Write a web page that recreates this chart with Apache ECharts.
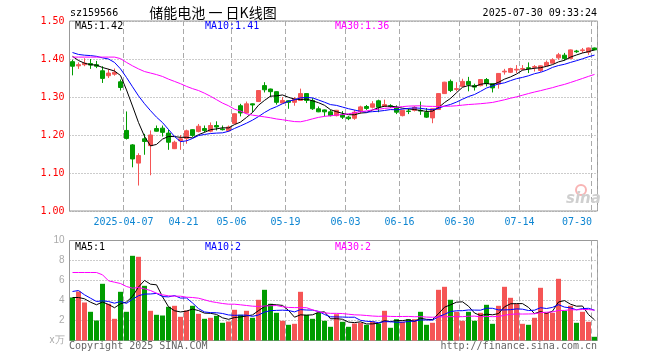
<!DOCTYPE html>
<html><head><meta charset="utf-8">
<script src="https://cdn.jsdelivr.net/npm/echarts@6/dist/echarts.min.js"></script>
<style>html,body{margin:0;padding:0;background:#fff}#c{width:660px;height:360px}</style>
</head><body><div id="c"></div>
<script>
// ---- data ----
const dates = ['2025-03-24','2025-03-25','2025-03-26','2025-03-27','2025-03-28','2025-03-31','2025-04-01','2025-04-02','2025-04-03',
'2025-04-07','2025-04-08','2025-04-09','2025-04-10','2025-04-11','2025-04-14','2025-04-15','2025-04-16','2025-04-17','2025-04-18',
'2025-04-21','2025-04-22','2025-04-23','2025-04-24','2025-04-25','2025-04-28','2025-04-29','2025-04-30',
'2025-05-06','2025-05-07','2025-05-08','2025-05-09','2025-05-12','2025-05-13','2025-05-14','2025-05-15','2025-05-16',
'2025-05-19','2025-05-20','2025-05-21','2025-05-22','2025-05-23','2025-05-26','2025-05-27','2025-05-28','2025-05-29','2025-05-30',
'2025-06-03','2025-06-04','2025-06-05','2025-06-06','2025-06-09','2025-06-10','2025-06-11','2025-06-12','2025-06-13',
'2025-06-16','2025-06-17','2025-06-18','2025-06-19','2025-06-20','2025-06-23','2025-06-24','2025-06-25','2025-06-26','2025-06-27',
'2025-06-30','2025-07-01','2025-07-02','2025-07-03','2025-07-04','2025-07-07','2025-07-08','2025-07-09','2025-07-10','2025-07-11',
'2025-07-14','2025-07-15','2025-07-16','2025-07-17','2025-07-18','2025-07-21','2025-07-22','2025-07-23','2025-07-24','2025-07-25',
'2025-07-28','2025-07-29','2025-07-30'];
const opens = [1.393,1.382,1.385,1.388,1.385,1.369,1.356,1.360,1.340,
1.212,1.174,1.126,1.190,1.172,1.217,1.218,1.205,1.164,1.185,
1.191,1.214,1.209,1.217,1.210,1.225,1.216,1.211,
1.230,1.277,1.258,1.282,1.288,1.330,1.321,1.314,1.284,
1.290,1.286,1.291,1.309,1.291,1.269,1.266,1.261,1.251,1.253,
1.247,1.244,1.262,1.275,1.273,1.290,1.275,1.277,1.273,
1.251,1.263,1.265,1.265,1.260,1.245,1.267,1.309,1.341,1.320,
1.328,1.341,1.330,1.330,1.346,1.335,1.334,1.366,1.365,1.371,
1.373,1.377,1.378,1.370,1.382,1.389,1.403,1.410,1.401,1.421,
1.422,1.418,1.429];
const closes = [1.381,1.385,1.389,1.384,1.381,1.349,1.363,1.365,1.325,
1.191,1.137,1.146,1.183,1.200,1.210,1.207,1.181,1.181,1.190,
1.211,1.199,1.223,1.212,1.225,1.221,1.214,1.221,
1.256,1.258,1.282,1.279,1.317,1.319,1.314,1.286,1.291,
1.286,1.295,1.309,1.291,1.269,1.261,1.261,1.251,1.265,1.247,
1.243,1.260,1.274,1.270,1.282,1.273,1.280,1.275,1.260,
1.265,1.262,1.273,1.263,1.247,1.269,1.309,1.339,1.317,1.322,
1.341,1.332,1.326,1.346,1.335,1.324,1.362,1.368,1.375,1.373,
1.375,1.375,1.380,1.382,1.391,1.398,1.411,1.401,1.424,1.419,
1.424,1.429,1.424];
const lows = [1.357,1.374,1.381,1.374,1.376,1.337,1.350,1.356,1.317,
1.188,1.115,1.067,1.148,1.094,1.209,1.196,1.161,1.163,1.161,
1.177,1.195,1.207,1.207,1.207,1.212,1.212,1.209,
1.229,1.249,1.257,1.260,1.287,1.312,1.300,1.280,1.284,
1.269,1.277,1.290,1.284,1.266,1.260,1.249,1.249,1.249,1.242,
1.239,1.240,1.256,1.266,1.270,1.260,1.275,1.271,1.255,
1.249,1.255,1.262,1.253,1.245,1.231,1.266,1.308,1.313,1.315,
1.326,1.315,1.317,1.328,1.328,1.312,1.322,1.359,1.363,1.363,
1.370,1.363,1.367,1.366,1.381,1.388,1.398,1.396,1.400,1.416,
1.416,1.411,1.423];
const highs = [1.398,1.391,1.402,1.400,1.395,1.381,1.374,1.375,1.346,
1.262,1.176,1.152,1.203,1.212,1.225,1.225,1.214,1.185,1.200,
1.214,1.215,1.229,1.225,1.233,1.236,1.225,1.225,
1.257,1.282,1.288,1.283,1.318,1.339,1.322,1.315,1.300,
1.291,1.300,1.322,1.310,1.297,1.275,1.267,1.266,1.266,1.263,
1.250,1.266,1.277,1.279,1.289,1.293,1.293,1.281,1.278,
1.266,1.269,1.276,1.288,1.271,1.270,1.310,1.340,1.346,1.339,
1.348,1.353,1.335,1.347,1.350,1.336,1.363,1.374,1.377,1.384,
1.384,1.391,1.384,1.383,1.396,1.402,1.416,1.416,1.425,1.424,
1.429,1.430,1.430];
const volumes = [4.3,4.9,3.8,2.87,2.0,5.67,3.67,2.17,4.87,
2.87,8.47,8.37,5.47,2.97,2.57,2.5,3.37,3.47,2.37,
3.0,3.47,2.67,2.17,2.27,2.47,1.77,1.9,
3.07,2.57,2.97,2.27,4.07,5.07,3.67,2.77,1.97,
1.57,1.67,4.87,2.57,2.17,2.77,1.97,1.37,2.63,1.87,
1.37,1.7,1.77,1.57,1.9,1.7,2.97,1.27,2.13,
1.87,2.13,2.13,2.87,1.57,1.77,5.07,5.37,4.07,2.87,
1.97,2.87,1.97,2.77,3.57,1.67,3.47,5.37,4.27,3.67,
1.67,1.57,2.27,5.27,2.77,2.77,6.17,2.97,3.47,1.77,
2.87,1.87,0.37];
// moving-average values at the left edge (windows reach back before the chart)
const ma5Head = [1.407,1.396,1.389,1.385];
const ma10Head = [1.417,1.412,1.410,1.409,1.407,1.403,1.400,1.391,1.374];
const ma30Head = [1.405,1.405,1.405,1.405,1.405,1.405,1.405,1.405,1.401,1.391,1.382,1.374,1.367,1.363,1.359,
1.354,1.347,1.341,1.335,1.328,1.322,1.317,1.310,1.302,1.293,1.284,1.277,1.268,1.263];
const volMa5Head = [4.3,4.3,4.17,3.83];
const volMa10Head = [4.9,5.0,4.57,4.23,3.9,3.97,3.9,3.73,3.9];
const volMa30Head = [6.8,6.8,6.8,6.8,6.8,6.57,5.97,5.83,5.7,5.4,5.23,5.3,5.17,5.0,4.73,4.57,4.47,4.43,4.43,
4.33,4.3,4.23,4.07,3.9,3.8,3.7,3.63,3.63,3.57];
const tickDates = ['2025-04-07','2025-04-21','2025-05-06','2025-05-19','2025-06-03','2025-06-16','2025-06-30','2025-07-14','2025-07-30'];
const tickLabels = ['2025-04-07','04-21','05-06','05-19','06-03','06-16','06-30','07-14','07-30'];
const priceLegend = ['MA5:1.42','MA10:1.41','MA30:1.36'];
const volLegend = ['MA5:1','MA10:2','MA30:2'];
const headerTexts = ['sz159566','储能电池 一 日K线图','2025-07-30 09:33:24'];
const footerTexts = ['Copyright 2025 SINA.COM','http://finance.sina.com.cn'];

// ---- build ----
function movingAvg(src, n, head){
  return src.map((v,i)=>{
    if(i < n-1) return head[i];
    let s=0; for(let k=i-n+1;k<=i;k++) s+=src[k];
    return +(s/n).toFixed(4);
  });
}
const RED='#f55555', GREEN='#009c00', MONO='"DejaVu Sans Mono", monospace';
const kData = dates.map((d,i)=>[opens[i],closes[i],lows[i],highs[i]]);
const volData = volumes.map((v,i)=>({value:v,itemStyle:{color: closes[i]>=opens[i]?RED:GREEN}}));
const tickIdx = tickDates.map(d=>dates.indexOf(d));
const lastTick = tickIdx[tickIdx.length-1];
const splitLineCfg = {show:true, interval:(idx)=>tickIdx.includes(idx), lineStyle:{color:'#aaa',type:[5,3],width:1}};

const chart = echarts.init(document.getElementById('c'), null, {renderer:'canvas'});
const lineS = (name, data, color, xi, yi) => ({name, type:'line', data, xAxisIndex:xi, yAxisIndex:yi,
  symbol:'none', silent:true, lineStyle:{color, width:1}, itemStyle:{color}, z:5});

const txt = (text,x,y,fill,align,font) => ({type:'text', x, y, style:{text, fill, font: font||('10px '+MONO), textAlign:align||'left', textVerticalAlign:'middle'}, z:10});

chart.setOption({
  animation:false,
  backgroundColor:'#fff',
  grid:[
    {left:69.5, top:21, width:528, height:190, show:true, borderColor:'#999', borderWidth:1, backgroundColor:'transparent'},
    {left:69.5, top:240.5, width:528, height:100, show:true, borderColor:'#999', borderWidth:1, backgroundColor:'transparent'}
  ],
  xAxis:[
    {type:'category', gridIndex:0, data:dates, boundaryGap:true,
      axisLine:{show:false}, axisTick:{show:false}, splitLine:splitLineCfg,
      axisLabel:{show:true, interval:(idx)=>tickIdx.includes(idx), margin:6, color:'#0f86d2',
        fontFamily:MONO, fontSize:10,
        formatter:(v,idx)=>{const k=tickDates.indexOf(v); if(k<0) return ''; return (idx===lastTick?'{b|':'{a|')+tickLabels[k]+'}';},
        rich:{a:{padding:[0,6,0,0],color:'#0f86d2',fontFamily:MONO,fontSize:10},
              b:{padding:[0,35,0,0],color:'#0f86d2',fontFamily:MONO,fontSize:10}}}},
    {type:'category', gridIndex:1, data:dates, boundaryGap:true,
      axisLine:{show:false}, axisTick:{show:false}, axisLabel:{show:false}, splitLine:splitLineCfg}
  ],
  yAxis:[
    {type:'value', gridIndex:0, min:1.0, max:1.5, interval:0.1, scale:false,
      axisLine:{show:false}, axisTick:{show:false},
      axisLabel:{color:'#f00', fontFamily:MONO, fontSize:10, margin:5, formatter:v=>v.toFixed(2)},
      splitLine:{show:true, lineStyle:{color:'#999', type:[1,2], width:1}}},
    {type:'value', gridIndex:1, min:0, max:10, interval:2,
      axisLine:{show:false}, axisTick:{show:false},
      axisLabel:{color:'#aaa', fontFamily:'"Liberation Sans", sans-serif', fontSize:10, margin:5,
        formatter:v=> v===0 ? 'x万' : String(v)},
      splitLine:{show:true, lineStyle:{color:'#999', type:[1,2], width:1}}}
  ],
  series:[
    {name:'K', type:'candlestick', data:kData, xAxisIndex:0, yAxisIndex:0, barWidth:5,
      itemStyle:{color:RED, color0:GREEN, borderColor:RED, borderColor0:GREEN, borderWidth:1}, z:3},
    lineS('MA5', movingAvg(closes,5,ma5Head), '#000', 0, 0),
    lineS('MA10', movingAvg(closes,10,ma10Head), '#0000ff', 0, 0),
    lineS('MA30', movingAvg(closes,30,ma30Head), '#ff00ff', 0, 0),
    {name:'VOL', type:'bar', data:volData, xAxisIndex:1, yAxisIndex:1, barWidth:5, z:3},
    lineS('VMA5', movingAvg(volumes,5,volMa5Head), '#000', 1, 1),
    lineS('VMA10', movingAvg(volumes,10,volMa10Head), '#0000ff', 1, 1),
    lineS('VMA30', movingAvg(volumes,30,volMa30Head), '#ff00ff', 1, 1)
  ],
  graphic:[
    txt(headerTexts[0], 70, 13, '#000'),
    txt(headerTexts[1], 213, 12.5, '#000', 'center', '14px "Noto Sans CJK SC", sans-serif'),
    txt(headerTexts[2], 597, 13, '#000', 'right'),
    txt(priceLegend[0], 75, 26.5, '#000'),
    txt(priceLegend[1], 205, 26.5, '#0000ff'),
    txt(priceLegend[2], 335, 26.5, '#ff00ff'),
    txt(volLegend[0], 75, 247, '#000'),
    txt(volLegend[1], 205, 247, '#0000ff'),
    txt(volLegend[2], 335, 247, '#ff00ff'),
    txt(footerTexts[0], 69, 346.5, '#666'),
    txt(footerTexts[1], 597, 346.5, '#666', 'right'),
    {type:'circle', shape:{cx:581, cy:190, r:5}, style:{fill:'none', stroke:'#f8b4b4', lineWidth:2}, z:1},
    txt('sina', 566, 199, '#cfcfcf', 'left', 'italic bold 15px "DejaVu Sans", sans-serif')
  ]
});
</script></body></html>
